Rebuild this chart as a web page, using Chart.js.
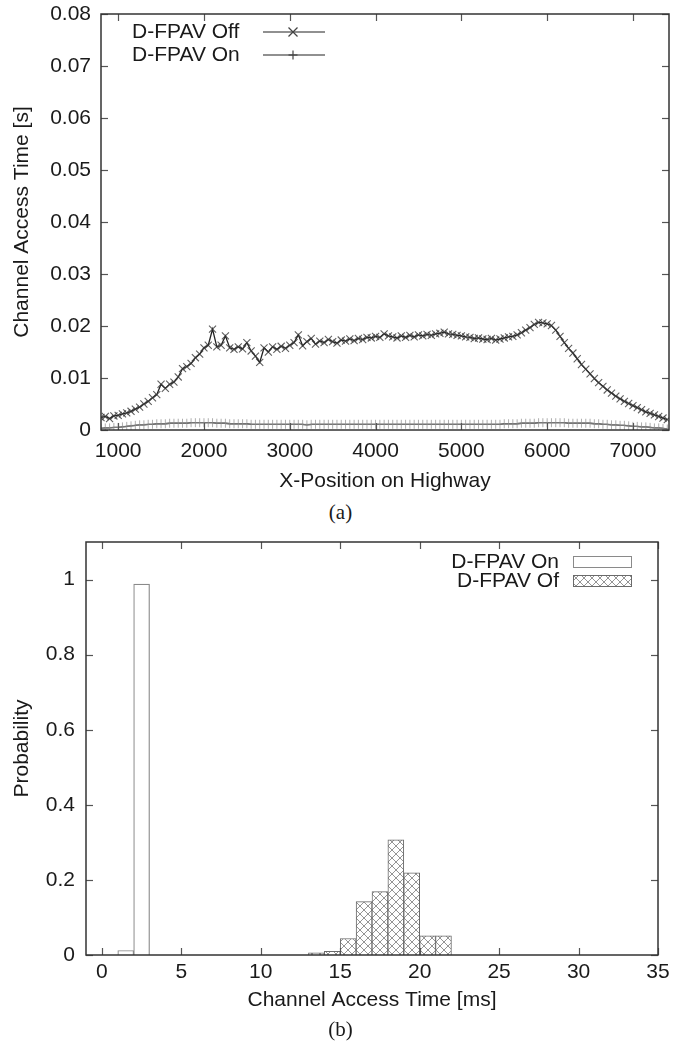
<!DOCTYPE html>
<html>
<head>
<meta charset="utf-8">
<script src="https://cdn.jsdelivr.net/npm/chart.js@4.4.1/dist/chart.umd.min.js"></script>
<style>
  html, body { margin: 0; padding: 0; background: #fff; }
  body { width: 681px; height: 1050px; position: relative; overflow: hidden; }
  .box { position: absolute; left: 0; width: 681px; }
  .cap { position: absolute; left: 0; width: 681px; text-align: center;
         font-family: "Liberation Serif", "DejaVu Serif", serif; font-size: 21px; color: #1a1a1a; }
</style>
</head>
<body>
<div class="box" style="top:0;height:500px"><canvas id="accessChart" width="681" height="500"></canvas></div>
<div class="cap" style="top:500px">(a)</div>
<div class="box" style="top:530px;height:490px"><canvas id="probChart" width="681" height="490"></canvas></div>
<div class="cap" style="top:1017px">(b)</div>
<script>
// (a) channel access time vs position
let xPos = [800, 850, 900, 950, 1000, 1050, 1100, 1150, 1200, 1250,
    1300, 1350, 1400, 1450, 1500, 1550, 1600, 1650, 1700, 1750,
    1800, 1850, 1900, 1950, 2000, 2050, 2100, 2150, 2200, 2250,
    2300, 2350, 2400, 2450, 2500, 2550, 2600, 2650, 2700, 2750,
    2800, 2850, 2900, 2950, 3000, 3050, 3100, 3150, 3200, 3250,
    3300, 3350, 3400, 3450, 3500, 3550, 3600, 3650, 3700, 3750,
    3800, 3850, 3900, 3950, 4000, 4050, 4100, 4150, 4200, 4250,
    4300, 4350, 4400, 4450, 4500, 4550, 4600, 4650, 4700, 4750,
    4800, 4850, 4900, 4950, 5000, 5050, 5100, 5150, 5200, 5250,
    5300, 5350, 5400, 5450, 5500, 5550, 5600, 5650, 5700, 5750,
    5800, 5850, 5900, 5950, 6000, 6050, 6100, 6150, 6200, 6250,
    6300, 6350, 6400, 6450, 6500, 6550, 6600, 6650, 6700, 6750,
    6800, 6850, 6900, 6950, 7000, 7050, 7100, 7150, 7200, 7250,
    7300, 7350, 7400];

let fpavOff = [0.0024, 0.0026, 0.0022, 0.0027, 0.0028, 0.0031, 0.0033, 0.0036, 0.0040, 0.0044,
    0.0050, 0.0055, 0.0062, 0.0068, 0.0088, 0.0080, 0.0088, 0.0092, 0.0102, 0.0118,
    0.0122, 0.0128, 0.0139, 0.0146, 0.0158, 0.0163, 0.0194, 0.0160, 0.0163, 0.0181,
    0.0158, 0.0155, 0.0160, 0.0156, 0.0168, 0.0152, 0.0142, 0.0130, 0.0158, 0.0150,
    0.0160, 0.0155, 0.0161, 0.0157, 0.0163, 0.0168, 0.0183, 0.0162, 0.0170, 0.0176,
    0.0165, 0.0171, 0.0168, 0.0174, 0.0170, 0.0167, 0.0173, 0.0171, 0.0175, 0.0172,
    0.0176, 0.0174, 0.0178, 0.0177, 0.0180, 0.0178, 0.0185, 0.0181, 0.0179, 0.0177,
    0.0181, 0.0178, 0.0182, 0.0179, 0.0183, 0.0181, 0.0184, 0.0182, 0.0185, 0.0186,
    0.0188, 0.0185, 0.0184, 0.0182, 0.0181, 0.0179, 0.0178, 0.0176, 0.0177, 0.0175,
    0.0174, 0.0176, 0.0173, 0.0175, 0.0177, 0.0179, 0.0180, 0.0183, 0.0187, 0.0192,
    0.0197, 0.0203, 0.0207, 0.0206, 0.0204, 0.0201, 0.0192, 0.0180, 0.0168, 0.0157,
    0.0148, 0.0137, 0.0126, 0.0117, 0.0108, 0.0099, 0.0091, 0.0084, 0.0077, 0.0071,
    0.0065, 0.0060, 0.0055, 0.0051, 0.0047, 0.0043, 0.0039, 0.0035, 0.0032, 0.0029,
    0.0026, 0.0023, 0.0020];

let fpavOn = [0.0003, 0.0004, 0.0004, 0.0005, 0.0005, 0.0006, 0.0007, 0.0008, 0.0009, 0.0010,
    0.0010, 0.0011, 0.0011, 0.0012, 0.0012, 0.0012, 0.0013, 0.0013, 0.0013, 0.0013,
    0.0013, 0.0014, 0.0014, 0.0014, 0.0014, 0.0014, 0.0014, 0.0013, 0.0013, 0.0013,
    0.0012, 0.0012, 0.0012, 0.0012, 0.0012, 0.0011, 0.0011, 0.0011, 0.0011, 0.0011,
    0.0011, 0.0011, 0.0011, 0.0011, 0.0011, 0.0011, 0.0011, 0.0011, 0.0010, 0.0011,
    0.0011, 0.0011, 0.0011, 0.0011, 0.0011, 0.0011, 0.0011, 0.0011, 0.0011, 0.0011,
    0.0011, 0.0011, 0.0011, 0.0011, 0.0011, 0.0011, 0.0011, 0.0011, 0.0011, 0.0011,
    0.0011, 0.0011, 0.0011, 0.0011, 0.0011, 0.0011, 0.0011, 0.0011, 0.0011, 0.0011,
    0.0011, 0.0011, 0.0011, 0.0011, 0.0011, 0.0011, 0.0011, 0.0011, 0.0011, 0.0011,
    0.0011, 0.0011, 0.0011, 0.0011, 0.0012, 0.0012, 0.0012, 0.0012, 0.0013, 0.0013,
    0.0013, 0.0013, 0.0014, 0.0014, 0.0014, 0.0014, 0.0014, 0.0014, 0.0014, 0.0013,
    0.0013, 0.0013, 0.0013, 0.0013, 0.0013, 0.0012, 0.0012, 0.0011, 0.0011, 0.0010,
    0.0010, 0.0009, 0.0009, 0.0008, 0.0007, 0.0007, 0.0006, 0.0006, 0.0005, 0.0004,
    0.0004, 0.0003, 0.0002];

let posTicks = [1000, 2000, 3000, 4000, 5000, 6000, 7000];
let timeTicks = [0, 0.01, 0.02, 0.03, 0.04, 0.05, 0.06, 0.07, 0.08];

// (b) histogram of channel access time, 1 ms bins (bin centres)
let onBins = [1.5, 2.5];
let onProb = [0.012, 0.988];
let offBins = [13.5, 14.5, 15.5, 16.5, 17.5, 18.5, 19.5, 20.5, 21.5];
let offProb = [0.006, 0.010, 0.044, 0.142, 0.169, 0.307, 0.219, 0.051, 0.051];
let msTicks = [0, 5, 10, 15, 20, 25, 30, 35];
let probTicks = [0, 0.2, 0.4, 0.6, 0.8, 1];

const FONT = '"Liberation Sans", Arial, sans-serif';
const INK = '#1a1a1a';
Chart.defaults.font.family = FONT;
Chart.defaults.font.size = 21;
Chart.defaults.color = INK;

function line(ctx, x1, y1, x2, y2) {
    ctx.beginPath();
    ctx.moveTo(x1, y1);
    ctx.lineTo(x2, y2);
    ctx.stroke();
}

// gnuplot style frame with inward ticks on all four sides
const frame = {
    id: 'frame',
    afterDatasetsDraw(chart) {
        const {ctx, chartArea: a, scales} = chart;
        ctx.save();
        ctx.strokeStyle = '#555';
        ctx.lineWidth = 1.2;
        scales.x.ticks.forEach(t => {
            const px = Math.round(scales.x.getPixelForValue(t.value)) + 0.5;
            line(ctx, px, a.bottom, px, a.bottom - 7);
            line(ctx, px, a.top, px, a.top + 7);
        });
        scales.y.ticks.forEach(t => {
            const py = Math.round(scales.y.getPixelForValue(t.value)) + 0.5;
            line(ctx, a.left, py, a.left + 7, py);
            line(ctx, a.right, py, a.right - 7, py);
        });
        ctx.strokeStyle = '#333';
        ctx.lineWidth = 1.5;
        ctx.strokeRect(a.left, a.top, a.right - a.left, a.bottom - a.top);
        ctx.restore();
    }
};

function drawMark(ctx, style, x, y, r) {
    if (style === 'crossRot') {
        line(ctx, x - r, y - r, x + r, y + r);
        line(ctx, x - r, y + r, x + r, y - r);
    } else {
        line(ctx, x - r, y, x + r, y);
        line(ctx, x, y - r, x, y + r);
    }
}

const lineLegend = {
    id: 'lineLegend',
    afterDraw(chart) {
        const {ctx, chartArea: a} = chart;
        ctx.save();
        ctx.font = '21px ' + FONT;
        ctx.fillStyle = INK;
        ctx.textBaseline = 'middle';
        chart.data.datasets.forEach((ds, i) => {
            const y = a.top + 18 + i * 23;
            ctx.textAlign = 'left';
            ctx.fillText(ds.label, a.left + 31, y);
            ctx.strokeStyle = '#222';
            ctx.lineWidth = 1.2;
            line(ctx, a.left + 162, y, a.left + 224, y);
            ctx.strokeStyle = '#444';
            drawMark(ctx, ds.pointStyle, a.left + 192, y, 4.5);
        });
        ctx.restore();
    }
};

const barLegend = {
    id: 'barLegend',
    afterDraw(chart) {
        const {ctx, chartArea: a} = chart;
        ctx.save();
        ctx.font = '21px ' + FONT;
        ctx.textBaseline = 'middle';
        ctx.textAlign = 'right';
        chart.data.datasets.forEach((ds, i) => {
            const y = a.top + 20 + i * 19;
            ctx.fillStyle = INK;
            ctx.fillText(ds.label, a.right - 99, y);
            ctx.fillStyle = ds.backgroundColor;
            ctx.fillRect(a.right - 85, y - 6, 59, 12);
            ctx.strokeStyle = ds.borderColor;
            ctx.lineWidth = 1;
            ctx.strokeRect(a.right - 84.5, y - 5.5, 58, 11);
        });
        ctx.restore();
    }
};

function fixTicks(list) {
    return function (scale) {
        scale.ticks = list.map(v => ({value: v}));
    };
}

// keep the label overflow from pushing the plot frame inwards
function fitX(h) {
    return function (scale) {
        scale.height = h;
        scale.paddingLeft = 0;
        scale.paddingRight = 0;
    };
}
function fitY(w) {
    return function (scale) {
        scale.width = w;
        scale.paddingTop = 0;
        scale.paddingBottom = 0;
    };
}

let accessCtx = document.getElementById('accessChart');
let accessChart = new Chart(accessCtx, {
    type: 'line',
    data: {
        datasets: [{
            label: 'D-FPAV Off',
            data: xPos.map((x, i) => ({x: x, y: fpavOff[i]})),
            borderColor: '#222',
            borderWidth: 1.3,
            pointStyle: 'crossRot',
            pointRadius: 5,
            pointBorderWidth: 1.1,
            pointBorderColor: 'rgba(55,55,55,0.8)',
            fill: false,
            tension: 0
        }, {
            label: 'D-FPAV On',
            data: xPos.map((x, i) => ({x: x, y: fpavOn[i]})),
            borderColor: '#222',
            borderWidth: 1.3,
            pointStyle: 'cross',
            pointRadius: 4.5,
            pointBorderWidth: 1,
            pointBorderColor: 'rgba(140,140,140,0.7)',
            fill: false,
            tension: 0
        }]
    },
    options: {
        responsive: false,
        animation: false,
        devicePixelRatio: 1,
        layout: {padding: {left: 6, right: 12, top: 14, bottom: 0}},
        plugins: {legend: {display: false}, tooltip: {enabled: false}},
        scales: {
            x: {
                type: 'linear',
                min: 800,
                max: 7420,
                afterBuildTicks: fixTicks(posTicks),
                afterFit: fitX(70),
                grid: {display: false, drawTicks: false},
                border: {display: false},
                ticks: {padding: 9, maxRotation: 0, callback: v => String(v)},
                title: {display: true, text: 'X-Position on Highway', padding: {top: 0, bottom: 6}}
            },
            y: {
                min: 0,
                max: 0.08,
                afterBuildTicks: fixTicks(timeTicks),
                afterFit: fitY(95),
                grid: {display: false, drawTicks: false},
                border: {display: false},
                ticks: {padding: 10, callback: v => String(+v.toFixed(2))},
                title: {display: true, text: 'Channel Access Time [s]', padding: {top: 4, bottom: 0}}
            }
        }
    },
    plugins: [frame, lineLegend]
});

let hatch = (function () {
    let c = document.createElement('canvas');
    c.width = 8;
    c.height = 8;
    let g = c.getContext('2d');
    g.fillStyle = '#fff';
    g.fillRect(0, 0, 8, 8);
    g.strokeStyle = '#7a7a7a';
    g.lineWidth = 0.8;
    g.beginPath();
    g.moveTo(0, 0); g.lineTo(8, 8);
    g.moveTo(8, 0); g.lineTo(0, 8);
    g.stroke();
    return g.createPattern(c, 'repeat');
})();

let probCtx = document.getElementById('probChart');
let probChart = new Chart(probCtx, {
    type: 'bar',
    data: {
        datasets: [{
            label: 'D-FPAV On',
            data: onBins.map((x, i) => ({x: x, y: onProb[i]})),
            backgroundColor: '#fff',
            borderColor: '#8a8a8a',
            borderWidth: 1.2,
            grouped: false,
            barPercentage: 1,
            categoryPercentage: 1
        }, {
            label: 'D-FPAV Of',
            data: offBins.map((x, i) => ({x: x, y: offProb[i]})),
            backgroundColor: hatch,
            borderColor: '#6a6a6a',
            borderWidth: 1,
            grouped: false,
            barPercentage: 1,
            categoryPercentage: 1
        }]
    },
    options: {
        responsive: false,
        animation: false,
        devicePixelRatio: 1,
        layout: {padding: {left: 6, right: 23, top: 12, bottom: 0}},
        plugins: {legend: {display: false}, tooltip: {enabled: false}},
        scales: {
            x: {
                type: 'linear',
                min: -1,
                max: 35,
                offset: false,
                afterBuildTicks: fixTicks(msTicks),
                afterFit: fitX(65),
                grid: {display: false, drawTicks: false},
                border: {display: false},
                ticks: {padding: 5, maxRotation: 0},
                title: {display: true, text: 'Channel Access Time [ms]', padding: {top: 0, bottom: 7}}
            },
            y: {
                min: 0,
                max: 1.1,
                afterBuildTicks: fixTicks(probTicks),
                afterFit: fitY(80),
                grid: {display: false, drawTicks: false},
                border: {display: false},
                ticks: {padding: 11, callback: v => String(+v.toFixed(1))},
                title: {display: true, text: 'Probability', padding: {top: 4, bottom: 0}}
            }
        }
    },
    plugins: [frame, barLegend]
});
</script>
</body>
</html>
